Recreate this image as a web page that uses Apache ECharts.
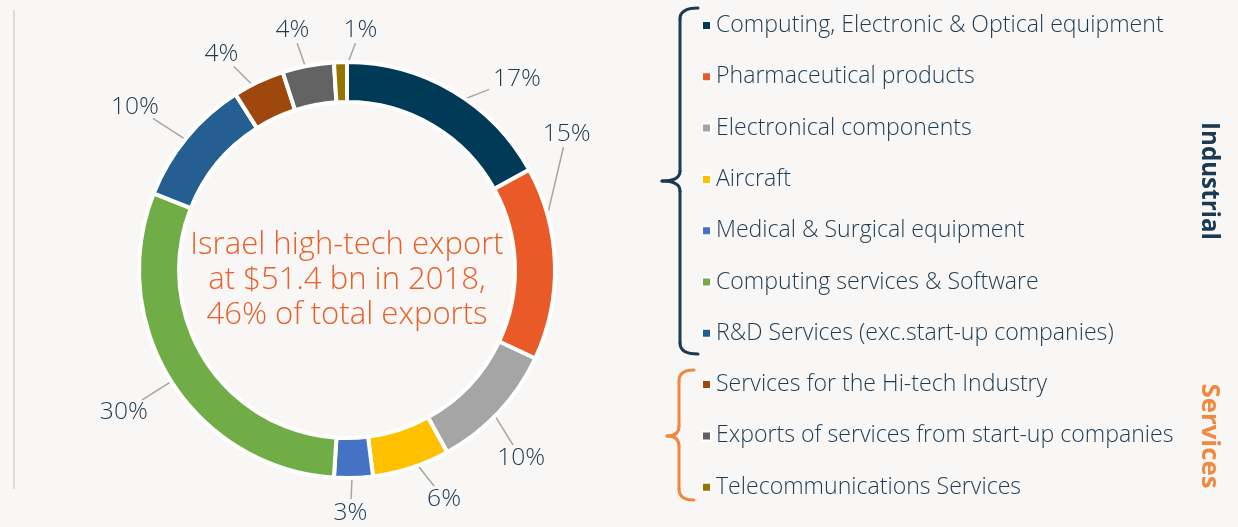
<!DOCTYPE html>
<html>
<head>
<meta charset="utf-8">
<script src="https://cdn.jsdelivr.net/npm/echarts@6/dist/echarts.min.js"></script>
<style>
html,body{margin:0;padding:0;background:#f8f7f5;}
#chart{width:1238px;height:527px;}
</style>
</head>
<body>
<div id="chart"></div>
<script>
// ---- data ----
const categories = [
  'Computing, Electronic & Optical equipment',
  'Pharmaceutical products',
  'Electronical components',
  'Aircraft',
  'Medical & Surgical equipment',
  'Computing services & Software',
  'R&D Services (exc.start-up companies)',
  'Services for the Hi-tech Industry',
  'Exports of services from start-up companies',
  'Telecommunications Services'
];
const shares = [17, 15, 10, 6, 3, 30, 10, 4, 4, 1];
const groupLabels = ['Industrial', 'Services'];
const centerLines = ['Israel high-tech export', 'at $51.4 bn in 2018,', '46% of total exports'];

// ---- styling / layout ----
const colors = ['#003a57', '#e95a28', '#a5a5a5', '#ffc000', '#4472c4', '#70ad47', '#255e91', '#9e480e', '#636363', '#997300'];
const FAMILY = '"Open Sans", Lato, sans-serif';
const W_TEXT = 300;
const TEXT = '#1e3a52';
const NAVY = '#1b3a52', ORANGE = '#f0883e';
const CX = 347, CY = 270, R_IN = 168, R_OUT = 208;
const LINE_R = 189, LABEL_R = 233;
const labelAngleNudge = [11, -30, 4, -5, 1, 0, -2, -5, -2, 5];
const labelRadiusNudge = [0, 0, 0, 0, 0, 6, 10, 0, 0, -3];

// font size chosen so a sample string reaches the width seen in the reference
const measureCtx = document.createElement('canvas').getContext('2d');
function fitSize(text, weight, targetWidth) {
  measureCtx.font = weight + ' 100px ' + FAMILY;
  const w = measureCtx.measureText(text).width;
  return Math.round(100 * targetWidth / w * 10) / 10;
}
const legendSize = fitSize(categories[0], W_TEXT, 448);
const centerSize = fitSize(centerLines[0], W_TEXT, 314);
const labelSize = fitSize('17%', W_TEXT, 48);
const industrialSize = fitSize(groupLabels[0], 'bold', 118);
const servicesSize = fitSize(groupLabels[1], 'bold', 105);

const total = shares.reduce((a, b) => a + b, 0);
const midAngle = [];
let acc = 0;
shares.forEach(v => { midAngle.push((acc + v / 2) / total * 360); acc += v; });

const chart = echarts.init(document.getElementById('chart'), null, {renderer: 'canvas'});

function labelLayout(p) {
  const i = p.dataIndex;
  const th = (midAngle[i] + labelAngleNudge[i]) * Math.PI / 180;
  const th0 = midAngle[i] * Math.PI / 180;
  const hw = p.labelRect.width / 2, hh = p.labelRect.height / 2 - 3;
  const R = LABEL_R + labelRadiusNudge[i] + Math.abs(Math.sin(th)) * hw + Math.abs(Math.cos(th)) * hh;
  const lx = CX + R * Math.sin(th), ly = CY - R * Math.cos(th);
  const sx = CX + LINE_R * Math.sin(th0), sy = CY - LINE_R * Math.cos(th0);
  let ux = sx - lx, uy = sy - ly;
  const d = Math.hypot(ux, uy); ux /= d; uy /= d;
  const t = Math.min(Math.abs(ux) > 1e-6 ? hw / Math.abs(ux) : 1e9,
                     Math.abs(uy) > 1e-6 ? hh / Math.abs(uy) : 1e9) + 4;
  const ex = lx + ux * t, ey = ly + uy * t;
  return {
    x: lx, y: ly, align: 'center', verticalAlign: 'middle',
    labelLinePoints: [[sx, sy], [ex, ey], [ex, ey]]
  };
}

// curly bracket built from lines and quadratic curves
function bracket(x, top, mid, bottom, tipX, hookX, color) {
  const st = {stroke: color, lineWidth: 3, fill: null, lineCap: 'round'};
  const r = 11, m = 10;
  return [
    {type: 'bezierCurve', shape: {x1: hookX, y1: top, cpx1: x, cpy1: top, x2: x, y2: top + r}, style: st},
    {type: 'line', shape: {x1: x, y1: top + r, x2: x, y2: mid - m}, style: st},
    {type: 'bezierCurve', shape: {x1: x, y1: mid - m, cpx1: x, cpy1: mid, x2: tipX, y2: mid}, style: st},
    {type: 'bezierCurve', shape: {x1: tipX, y1: mid, cpx1: x, cpy1: mid, x2: x, y2: mid + m}, style: st},
    {type: 'line', shape: {x1: x, y1: mid + m, x2: x, y2: bottom - r}, style: st},
    {type: 'bezierCurve', shape: {x1: x, y1: bottom - r, cpx1: x, cpy1: bottom, x2: hookX, y2: bottom}, style: st}
  ];
}

chart.setOption({
  backgroundColor: '#f8f7f5',
  animation: false,
  color: colors,
  legend: {
    orient: 'vertical',
    left: 696, top: 9,
    icon: 'rect',
    itemWidth: 9, itemHeight: 9,
    itemGap: 28.3,
    selectedMode: false,
    itemStyle: {borderColor: '#ffffff', borderWidth: 2},
    textStyle: {fontFamily: FAMILY, fontWeight: W_TEXT, fontSize: legendSize, color: TEXT, lineHeight: 22, height: 22},
    data: categories
  },
  series: [{
    type: 'pie',
    center: [CX, CY],
    radius: [R_IN, R_OUT],
    startAngle: 90,
    clockwise: true,
    avoidLabelOverlap: false,
    itemStyle: {borderColor: '#ffffff', borderWidth: 4},
    label: {
      show: true, position: 'outside',
      formatter: '{c}%',
      fontFamily: FAMILY, fontWeight: W_TEXT, fontSize: labelSize, color: TEXT
    },
    labelLine: {show: true, lineStyle: {color: '#a6a6a6', width: 1.5}},
    labelLayout: labelLayout,
    emphasis: {disabled: true},
    data: categories.map((c, i) => ({name: c, value: shares[i]}))
  }],
  graphic: [
    {type: 'line', shape: {x1: 14, y1: 10, x2: 14, y2: 489}, style: {stroke: '#dcdcdc', lineWidth: 2}},
    {type: 'text', x: CX, y: 280, style: {
      text: centerLines.join('\n'), fill: '#e9602b', font: W_TEXT + ' ' + centerSize + 'px ' + FAMILY,
      textAlign: 'center', textVerticalAlign: 'middle', lineHeight: 35
    }},
    ...bracket(680, 8, 181, 354, 662, 698, NAVY),
    ...bracket(679, 370, 436, 500, 667, 694, ORANGE),
    {type: 'text', x: 1209, y: 181, rotation: -Math.PI / 2, style: {
      text: groupLabels[0], fill: NAVY, font: 'bold ' + industrialSize + 'px ' + FAMILY,
      textAlign: 'center', textVerticalAlign: 'middle'
    }},
    {type: 'text', x: 1209, y: 436, rotation: -Math.PI / 2, style: {
      text: groupLabels[1], fill: ORANGE, font: 'bold ' + servicesSize + 'px ' + FAMILY,
      textAlign: 'center', textVerticalAlign: 'middle'
    }}
  ]
});
</script>
</body>
</html>
